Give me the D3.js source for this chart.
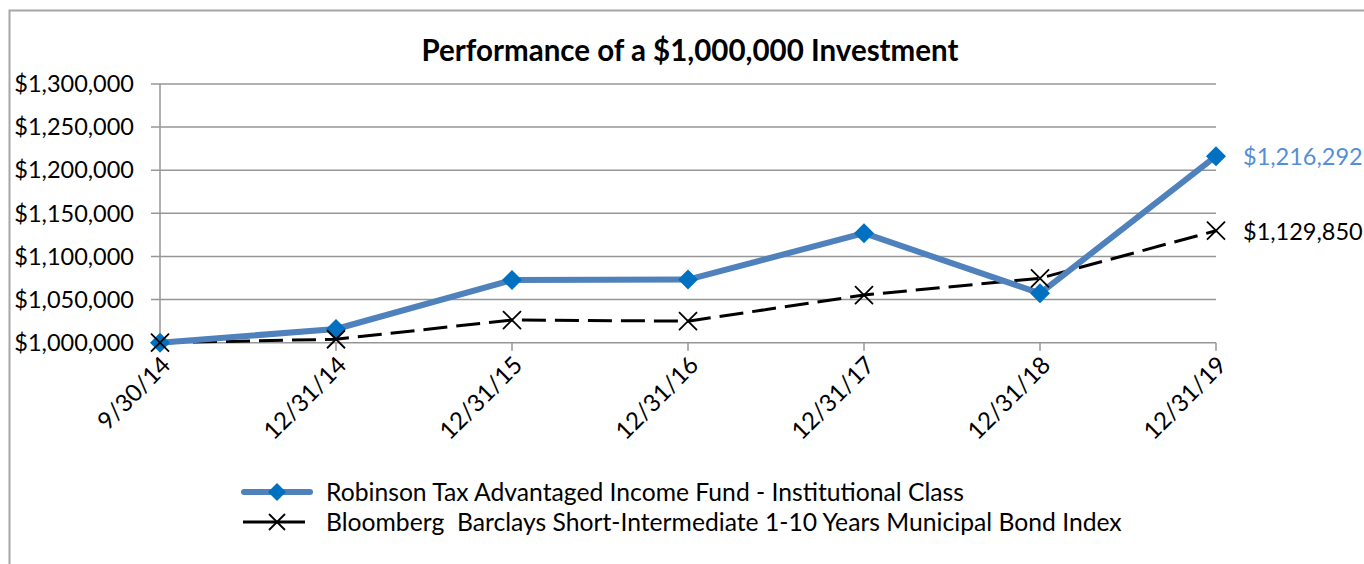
<!DOCTYPE html>
<html><head><meta charset="utf-8">
<script src="https://cdn.jsdelivr.net/npm/d3@7"></script>
<style>html,body{margin:0;padding:0;background:#fff;} svg{display:block;font-family:Lato,"Open Sans",sans-serif;}</style>
</head><body>
<svg id="c" width="1364" height="564"></svg>
<script>
const categories = ["9/30/14","12/31/14","12/31/15","12/31/16","12/31/17","12/31/18","12/31/19"];
const fundValues = [1000000,1015900,1072700,1073200,1127000,1057300,1216292];
const indexValues = [1000000,1004000,1026300,1025000,1055300,1074700,1129850];
const yTicks = [1000000,1050000,1100000,1150000,1200000,1250000,1300000];
const seriesNames = ["Robinson Tax Advantaged Income Fund - Institutional Class","Bloomberg  Barclays Short-Intermediate 1-10 Years Municipal Bond Index"];
const endLabels = ["$1,216,292","$1,129,850"];
const title = "Performance of a $1,000,000 Investment";

const svg = d3.select("#c");
const W=1364,H=564;
svg.append("rect").attr("x",9.5).attr("y",10.5).attr("width",W+20).attr("height",H+20)
  .attr("fill","#fff").attr("stroke","#a6a6a6").attr("stroke-width",2);

const x = d3.scalePoint().domain(categories).range([160,1216]);
const y = d3.scaleLinear().domain([1000000,1300000]).range([342.7,84]);
const fmt = v => "$" + d3.format(",")(v);

svg.append("g").selectAll("line").data(yTicks).join("line")
  .attr("x1",151).attr("x2",1216).attr("y1",d=>y(d)).attr("y2",d=>y(d))
  .attr("stroke","#969696").attr("stroke-width",1.5);
svg.append("line").attr("x1",160).attr("x2",160).attr("y1",y(1300000)).attr("y2",y(1000000))
  .attr("stroke","#969696").attr("stroke-width",1.5);
svg.append("g").selectAll("line").data(categories).join("line")
  .attr("x1",d=>x(d)).attr("x2",d=>x(d)).attr("y1",y(1000000)).attr("y2",y(1000000)+8)
  .attr("stroke","#969696").attr("stroke-width",1.5);

svg.append("g").selectAll("text").data(yTicks).join("text")
  .attr("x",134).attr("y",d=>y(d)).attr("dy","0.35em").attr("text-anchor","end")
  .attr("font-size",23.5).attr("fill","#000").text(fmt);

svg.append("g").selectAll("text").data(categories).join("text")
  .attr("transform",d=>`translate(${x(d)+6},${y(1000000)+18}) rotate(-45)`)
  .attr("text-anchor","end").attr("dy","0.35em")
  .attr("font-size",24).attr("fill","#000").text(d=>d);

svg.append("text").attr("x",690).attr("y",51).attr("dy","0.35em").attr("text-anchor","middle")
  .attr("font-size",29.5).attr("font-weight","bold").attr("fill","#000").text(title);

const line = d3.line().x((d,i)=>x(categories[i])).y(d=>y(d));

svg.append("path").datum(indexValues).attr("d",line).attr("fill","none")
  .attr("stroke","#000").attr("stroke-width",3).attr("stroke-dasharray","24,9");
svg.append("path").datum(fundValues).attr("d",line).attr("fill","none")
  .attr("stroke","#4f81bd").attr("stroke-width",6).attr("stroke-linejoin","round");

const diamond = (cx,cy,r) => `M${cx},${cy-r}L${cx+r},${cy}L${cx},${cy+r}L${cx-r},${cy}Z`;
const cross = (cx,cy,r) => `M${cx-r},${cy-r}L${cx+r},${cy+r}M${cx-r},${cy+r}L${cx+r},${cy-r}`;

svg.append("g").selectAll("path").data(fundValues).join("path")
  .attr("d",(d,i)=>diamond(x(categories[i]),y(d),10)).attr("fill","#0070c0");
svg.append("g").selectAll("path").data(indexValues).join("path")
  .attr("d",(d,i)=>cross(x(categories[i]),y(d),9)).attr("fill","none")
  .attr("stroke","#000").attr("stroke-width",1.8);

svg.append("text").attr("x",1243).attr("y",y(fundValues[6])+1).attr("dy","0.35em")
  .attr("font-size",23.5).attr("fill","#558ed5").text(endLabels[0]);
svg.append("text").attr("x",1243).attr("y",y(indexValues[6])+1).attr("dy","0.35em")
  .attr("font-size",23.5).attr("fill","#000").text(endLabels[1]);

const lg = svg.append("g");
lg.append("line").attr("x1",244).attr("x2",310).attr("y1",492).attr("y2",492)
  .attr("stroke","#4f81bd").attr("stroke-width",6).attr("stroke-linecap","round");
lg.append("path").attr("d",diamond(277,492,9)).attr("fill","#0070c0");
lg.append("line").attr("x1",243).attr("x2",305).attr("y1",522).attr("y2",522)
  .attr("stroke","#000").attr("stroke-width",3);
lg.append("path").attr("d",cross(277,522,8)).attr("stroke","#000").attr("stroke-width",1.8).attr("fill","none");
lg.selectAll("text").data(seriesNames).join("text")
  .attr("x",326).attr("y",(d,i)=>492+i*30).attr("dy","0.35em")
  .style("white-space","pre")
  .attr("font-size",24.7).attr("fill","#000").text(d=>d);
</script>
</body></html>
